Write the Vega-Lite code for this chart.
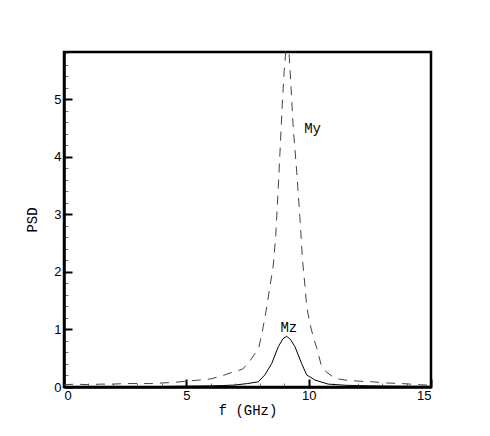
{
  "$schema": "https://vega.github.io/schema/vega-lite/v6.json",
  "width": 367,
  "height": 335,
  "autosize": {"type": "none"},
  "padding": {"left": 64, "top": 52, "right": 59, "bottom": 49},
  "background": "white",
  "config": {
    "view": {"stroke": "black", "strokeWidth": 2.5},
    "axis": {
      "grid": false,
      "domainColor": "black",
      "domainWidth": 2.5,
      "labelFont": "Liberation Sans",
      "labelFontSize": 13,
      "labelColor": "black",
      "titleFont": "Liberation Mono",
      "titleFontSize": 14,
      "titleFontWeight": "normal",
      "titleColor": "black",
      "labelOverlap": false
    }
  },
  "data": {
    "values": [
      {"series": "My", "f": 0, "psd": 0.04},
      {"series": "My", "f": 0.5, "psd": 0.05},
      {"series": "My", "f": 1, "psd": 0.04},
      {"series": "My", "f": 1.5, "psd": 0.05},
      {"series": "My", "f": 2, "psd": 0.05},
      {"series": "My", "f": 2.5, "psd": 0.06},
      {"series": "My", "f": 3, "psd": 0.06},
      {"series": "My", "f": 3.5, "psd": 0.06},
      {"series": "My", "f": 4, "psd": 0.07},
      {"series": "My", "f": 4.5, "psd": 0.08},
      {"series": "My", "f": 5, "psd": 0.1},
      {"series": "My", "f": 5.5, "psd": 0.12},
      {"series": "My", "f": 6, "psd": 0.14},
      {"series": "My", "f": 6.5, "psd": 0.2},
      {"series": "My", "f": 6.9, "psd": 0.26},
      {"series": "My", "f": 7.3, "psd": 0.31},
      {"series": "My", "f": 7.6, "psd": 0.45},
      {"series": "My", "f": 7.8, "psd": 0.58},
      {"series": "My", "f": 7.95, "psd": 0.66},
      {"series": "My", "f": 8.1, "psd": 0.95},
      {"series": "My", "f": 8.25, "psd": 1.3},
      {"series": "My", "f": 8.42, "psd": 1.75},
      {"series": "My", "f": 8.55, "psd": 2.1},
      {"series": "My", "f": 8.65, "psd": 2.6},
      {"series": "My", "f": 8.75, "psd": 3.4},
      {"series": "My", "f": 8.83, "psd": 4.1},
      {"series": "My", "f": 8.92, "psd": 4.9},
      {"series": "My", "f": 9.0, "psd": 5.5},
      {"series": "My", "f": 9.07, "psd": 5.85},
      {"series": "My", "f": 9.12, "psd": 6.0},
      {"series": "My", "f": 9.2, "psd": 5.8},
      {"series": "My", "f": 9.28, "psd": 5.2},
      {"series": "My", "f": 9.37, "psd": 4.5},
      {"series": "My", "f": 9.51, "psd": 3.75},
      {"series": "My", "f": 9.64, "psd": 2.96},
      {"series": "My", "f": 9.75, "psd": 2.2},
      {"series": "My", "f": 9.85, "psd": 1.75},
      {"series": "My", "f": 9.92, "psd": 1.4},
      {"series": "My", "f": 10.05, "psd": 1.1},
      {"series": "My", "f": 10.2, "psd": 0.85},
      {"series": "My", "f": 10.33, "psd": 0.68},
      {"series": "My", "f": 10.5, "psd": 0.4},
      {"series": "My", "f": 10.7, "psd": 0.27},
      {"series": "My", "f": 11.07, "psd": 0.15},
      {"series": "My", "f": 11.5, "psd": 0.12},
      {"series": "My", "f": 12.1, "psd": 0.1},
      {"series": "My", "f": 12.6, "psd": 0.09},
      {"series": "My", "f": 13.2, "psd": 0.07},
      {"series": "My", "f": 13.8, "psd": 0.06},
      {"series": "My", "f": 14.5, "psd": 0.04},
      {"series": "My", "f": 15, "psd": 0.03},
      {"series": "Mz", "f": 0, "psd": 0.01},
      {"series": "Mz", "f": 2, "psd": 0.01},
      {"series": "Mz", "f": 4, "psd": 0.01},
      {"series": "Mz", "f": 5, "psd": 0.015},
      {"series": "Mz", "f": 6, "psd": 0.02},
      {"series": "Mz", "f": 6.5, "psd": 0.025},
      {"series": "Mz", "f": 7.0, "psd": 0.035},
      {"series": "Mz", "f": 7.5, "psd": 0.06},
      {"series": "Mz", "f": 7.94, "psd": 0.09},
      {"series": "Mz", "f": 8.21, "psd": 0.21},
      {"series": "Mz", "f": 8.49, "psd": 0.41},
      {"series": "Mz", "f": 8.76, "psd": 0.7},
      {"series": "Mz", "f": 8.95, "psd": 0.84},
      {"series": "Mz", "f": 9.1, "psd": 0.88},
      {"series": "Mz", "f": 9.25, "psd": 0.83},
      {"series": "Mz", "f": 9.44, "psd": 0.7},
      {"series": "Mz", "f": 9.71, "psd": 0.41},
      {"series": "Mz", "f": 9.92, "psd": 0.21},
      {"series": "Mz", "f": 10.26, "psd": 0.12},
      {"series": "Mz", "f": 10.8, "psd": 0.05},
      {"series": "Mz", "f": 11.5, "psd": 0.03},
      {"series": "Mz", "f": 12.5, "psd": 0.02},
      {"series": "Mz", "f": 13.5, "psd": 0.015},
      {"series": "Mz", "f": 15, "psd": 0.01},
      {"series": "label", "f": 10.16, "psd": 4.48, "text": "My"},
      {"series": "label", "f": 9.19, "psd": 1.03, "text": "Mz"}
    ]
  },
  "encoding": {
    "x": {
      "field": "f",
      "type": "quantitative",
      "scale": {"domain": [0, 15], "nice": false},
      "axis": {
        "title": "f (GHz)",
        "values": [0,1,2,3,4,5,6,7,8,9,10,11,12,13,14,15],
        "labelExpr": "datum.value % 5 === 0 ? datum.label : ''",
        "tickSize": {"condition": {"test": "datum.value % 5 === 0", "value": -8}, "value": -4},
        "tickWidth": {"condition": {"test": "datum.value % 5 === 0", "value": 2}, "value": 1},
        "tickColor": {"condition": {"test": "datum.value % 5 === 0", "value": "black"}, "value": "#777"},
        "labelPadding": 10,
        "titlePadding": -3
      }
    },
    "y": {
      "field": "psd",
      "type": "quantitative",
      "scale": {"domain": [0, 5.82], "nice": false},
      "axis": {
        "title": "PSD",
        "values": [0,0.2,0.4,0.6,0.8,1,1.2,1.4,1.6,1.8,2,2.2,2.4,2.6,2.8,3,3.2,3.4,3.6,3.8,4,4.2,4.4,4.6,4.8,5,5.2,5.4,5.6,5.8],
        "labelExpr": "abs(datum.value - round(datum.value)) < 0.001 ? format(datum.value, 'd') : ''",
        "tickSize": {"condition": {"test": "abs(datum.value - round(datum.value)) < 0.001", "value": -8}, "value": -4},
        "tickWidth": {"condition": {"test": "abs(datum.value - round(datum.value)) < 0.001", "value": 2}, "value": 1},
        "tickColor": {"condition": {"test": "abs(datum.value - round(datum.value)) < 0.001", "value": "black"}, "value": "#777"},
        "labelPadding": 11,
        "titlePadding": 14
      }
    }
  },
  "layer": [
    {
      "transform": [{"filter": "datum.series === 'My'"}],
      "mark": {"type": "line", "color": "#444", "strokeWidth": 1, "strokeDash": [9, 7], "clip": true}
    },
    {
      "transform": [{"filter": "datum.series === 'Mz'"}],
      "mark": {"type": "line", "color": "black", "strokeWidth": 1, "clip": true}
    },
    {
      "transform": [{"filter": "datum.series === 'label'"}],
      "mark": {"type": "text", "font": "Liberation Mono", "fontSize": 14, "color": "black", "align": "center", "baseline": "middle"},
      "encoding": {"text": {"field": "text", "type": "nominal"}}
    }
  ]
}
